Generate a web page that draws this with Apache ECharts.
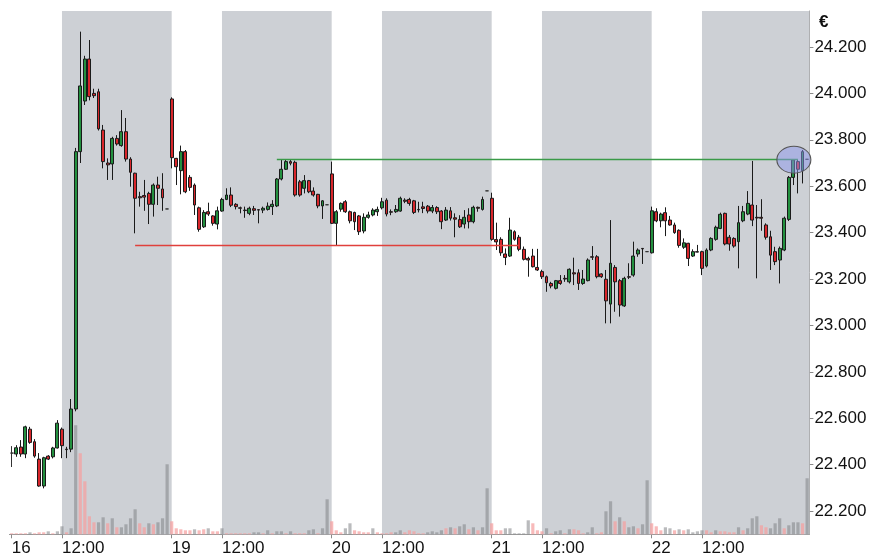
<!DOCTYPE html>
<html>
<head>
<meta charset="utf-8">
<script src="https://cdn.jsdelivr.net/npm/echarts@6/dist/echarts.min.js"></script>
<style>html,body{margin:0;padding:0;background:#fff}#chart{width:871px;height:558px}</style>
</head>
<body>
<div id="chart"></div>
<script>
// ---- DATA ----
const sessionDays = ['16', '19', '20', '21', '22'];
const barsPerDay = 35;
const noonSlot = 11;
const tickLabels = ['16', '12:00', '19', '12:00', '20', '12:00', '21', '12:00', '22', '12:00'];
const tickIndex = [0, 11, 35, 46, 70, 81, 105, 116, 140, 151];
const priceTicks = [22.2, 22.4, 22.6, 22.8, 23.0, 23.2, 23.4, 23.6, 23.8, 24.0, 24.2];

const opens = [
  22.45,22.446,22.476,22.446,22.553,22.499,22.424,22.308,22.437,22.434,22.472,22.553,22.467,22.467,22.64,23.749,23.967,24.148,24.0,24.007,23.842,23.70,23.696,23.806,23.775,23.835,23.717,23.656,23.555,23.56,23.569,23.522,23.605,23.588,23.502,
  23.976,23.72,23.667,23.749,23.638,23.605,23.507,23.425,23.49,23.472,23.437,23.493,23.543,23.562,23.522,23.507,23.497,23.483,23.503,23.499,23.497,23.50,23.512,23.515,23.631,23.673,23.706,23.703,23.619,23.591,23.624,23.579,23.565,23.515,23.52,
  23.653,23.44,23.501,23.533,23.49,23.487,23.472,23.407,23.466,23.476,23.49,23.507,23.54,23.49,23.49,23.493,23.54,23.543,23.537,23.50,23.511,23.514,23.493,23.508,23.493,23.454,23.494,23.464,23.456,23.437,23.476,23.447,23.509,23.50,23.58,
  23.548,23.37,23.371,23.308,23.299,23.404,23.38,23.328,23.289,23.299,23.25,23.232,23.21,23.181,23.16,23.193,23.203,23.188,23.227,23.227,23.181,23.193,23.296,23.296,23.222,23.199,23.092,23.25,23.193,23.084,23.21,23.217,23.308,23.332,23.318,
  23.313,23.49,23.451,23.486,23.454,23.433,23.41,23.337,23.354,23.299,23.318,23.318,23.256,23.325,23.371,23.418,23.483,23.38,23.375,23.361,23.451,23.48,23.519,23.466,23.466,23.433,23.382,23.318,23.282,23.325,23.457,23.638,23.706,23.667,23.716
];
const highs = [
  22.48,22.484,22.506,22.568,22.563,22.51,22.45,22.434,22.441,22.477,22.592,22.56,22.477,22.683,23.765,24.266,24.162,24.23,24.02,24.02,23.864,23.72,23.813,23.82,23.928,23.894,23.725,23.658,23.576,23.627,23.576,23.612,23.641,23.656,23.502,
  23.983,23.722,23.775,23.756,23.648,23.612,23.512,23.497,23.529,23.475,23.512,23.55,23.591,23.595,23.527,23.512,23.512,23.512,23.515,23.50,23.512,23.53,23.54,23.635,23.713,23.715,23.715,23.71,23.627,23.648,23.627,23.595,23.567,23.54,23.52,
  23.706,23.497,23.53,23.54,23.495,23.49,23.476,23.483,23.49,23.505,23.512,23.55,23.548,23.50,23.519,23.555,23.548,23.55,23.541,23.533,23.533,23.519,23.519,23.514,23.497,23.51,23.51,23.483,23.475,23.497,23.505,23.516,23.512,23.555,23.58,
  23.572,23.443,23.38,23.332,23.464,23.41,23.39,23.34,23.296,23.33,23.33,23.24,23.215,23.188,23.196,23.217,23.217,23.246,23.292,23.242,23.239,23.289,23.342,23.303,23.225,23.239,23.454,23.26,23.20,23.21,23.268,23.361,23.332,23.333,23.318,
  23.512,23.505,23.486,23.509,23.472,23.443,23.414,23.375,23.356,23.328,23.347,23.322,23.332,23.38,23.43,23.486,23.486,23.39,23.38,23.515,23.515,23.579,23.709,23.519,23.544,23.44,23.408,23.339,23.34,23.469,23.644,23.716,23.713,23.756,23.716
];
const lows = [
  22.39,22.434,22.434,22.428,22.49,22.43,22.305,22.298,22.42,22.427,22.47,22.428,22.428,22.454,22.63,23.70,23.95,23.97,23.98,23.84,23.677,23.627,23.627,23.775,23.77,23.706,23.598,23.397,23.512,23.494,23.437,23.469,23.519,23.494,23.502,
  23.677,23.605,23.565,23.57,23.58,23.476,23.404,23.42,23.472,23.43,23.414,23.49,23.54,23.51,23.50,23.483,23.464,23.475,23.476,23.44,23.484,23.495,23.476,23.51,23.625,23.67,23.69,23.555,23.555,23.569,23.57,23.555,23.505,23.459,23.52,
  23.437,23.343,23.49,23.485,23.44,23.411,23.39,23.397,23.46,23.47,23.472,23.50,23.47,23.475,23.485,23.49,23.527,23.516,23.48,23.487,23.484,23.483,23.484,23.48,23.415,23.45,23.452,23.38,23.42,23.418,23.418,23.44,23.49,23.495,23.58,
  23.365,23.325,23.30,23.26,23.295,23.365,23.32,23.28,23.21,23.25,23.235,23.20,23.145,23.16,23.155,23.175,23.188,23.181,23.174,23.153,23.175,23.19,23.282,23.203,23.205,23.009,23.009,23.059,23.038,23.08,23.20,23.21,23.296,23.265,23.318,
  23.31,23.445,23.423,23.385,23.43,23.395,23.335,23.33,23.256,23.295,23.315,23.217,23.25,23.32,23.365,23.415,23.345,23.322,23.335,23.246,23.445,23.475,23.428,23.203,23.408,23.37,23.239,23.26,23.181,23.32,23.45,23.605,23.569,23.612,23.716
];
const closes = [
  22.45,22.473,22.446,22.563,22.496,22.437,22.308,22.43,22.424,22.472,22.579,22.482,22.465,22.64,23.749,24.032,24.148,23.986,23.99,23.847,23.706,23.692,23.806,23.782,23.835,23.717,23.66,23.548,23.55,23.553,23.522,23.605,23.591,23.55,23.502,
  23.723,23.684,23.749,23.576,23.595,23.519,23.414,23.487,23.48,23.44,23.494,23.543,23.562,23.518,23.512,23.505,23.495,23.505,23.496,23.497,23.505,23.514,23.522,23.631,23.673,23.706,23.699,23.562,23.562,23.624,23.576,23.562,23.515,23.537,23.52,
  23.44,23.49,23.526,23.49,23.451,23.447,23.404,23.466,23.476,23.497,23.50,23.533,23.48,23.488,23.50,23.548,23.535,23.526,23.487,23.498,23.504,23.493,23.508,23.49,23.447,23.497,23.462,23.458,23.425,23.466,23.447,23.509,23.505,23.543,23.58,
  23.371,23.36,23.313,23.293,23.411,23.371,23.328,23.285,23.282,23.253,23.239,23.21,23.184,23.17,23.193,23.181,23.20,23.242,23.222,23.181,23.20,23.282,23.294,23.21,23.21,23.106,23.268,23.188,23.088,23.203,23.208,23.299,23.325,23.33,23.318,
  23.494,23.451,23.48,23.451,23.433,23.40,23.345,23.356,23.289,23.318,23.316,23.246,23.325,23.375,23.423,23.479,23.351,23.351,23.342,23.443,23.49,23.526,23.454,23.463,23.462,23.38,23.303,23.275,23.332,23.462,23.638,23.713,23.673,23.749,23.716
];
// volume (relative units): buy-side (grey) and sell-side (pink)
const upVolume = [
  0,0,0,0,2,0,0,0,3,0,3, 8,0,6,109,0,0,0,0,12,17,0,16,0,7,10,16,25,0,0,11,0,12,16,70,
  0,0,0,0,0,5,0,0,6,0,0, 6,0,0,0,0,0,0,2,2,0,4,0,3,3,0,3,0,0,0,4,5,0,6,35,
  0,0,0,6,11,0,0,0,0,6,0, 0,0,0,2,4,0,0,0,0,0,2,3,2,4,0,7,0,8,10,0,7,0,7,46,
  0,0,0,6,6,1,1,1,14,0,0, 0,6,0,3,4,0,5,0,0,0,2,7,0,0,23,33,0,17,0,7,8,0,10,54,
  0,0,0,7,6,0,5,0,5,2,3, 4,0,0,4,0,0,0,0,7,0,6,16,18,0,0,6,11,16,0,9,12,12,0,56
];
const downVolume = [
  1,1,1,1,0,1,2,2,0,1,0, 0,2,0,0,81,53,18,12,0,0,11,0,7,0,0,0,0,11,7,0,10,0,0,0,
  13,6,5,4,4,0,4,5,0,3,3, 0,1,1,1,1,1,1,0,0,1,0,1,0,0,1,0,1,1,1,0,0,1,0,0,
  13,4,2,0,0,4,3,2,2,0,2, 1,1,2,0,0,2,4,3,1,1,0,0,0,0,6,0,6,0,0,5,0,4,0,0,
  11,4,4,0,0,0,0,0,0,11,4, 3,0,1,0,0,1,0,5,4,1,0,0,1,2,0,0,13,0,13,0,0,6,0,0,
  11,8,4,0,0,4,0,4,0,0,0, 0,4,2,0,3,3,2,2,0,4,0,0,0,9,7,0,0,0,6,0,0,0,11,0
];
const supportLine = { from: 27, to: 111, value: 23.344 };
const resistanceLine = { from: 58, to: 172, value: 23.715 };
const highlight = { x: 171.1, value: 23.714 };

// ---- BUILD ----
const totalBars = sessionDays.length * barsPerDay;
const categories = [];
sessionDays.forEach(d => { for (let k = 0; k < barsPerDay; k++) categories.push(d + '#' + k); });
const labelAt = {};
tickIndex.forEach((idx, j) => { labelAt[idx] = tickLabels[j]; });
const isTick = (idx) => Object.prototype.hasOwnProperty.call(labelAt, idx);

const ohlc = opens.map((o, i) => [o, closes[i], lows[i], highs[i]]);
const upV = upVolume.map(v => v > 0 ? v : '-');
const downV = downVolume.map(v => v > 0 ? v : '-');

const bands = sessionDays.map((d, j) => {
  const start = j * barsPerDay + noonSlot;
  const end = Math.min((j + 1) * barsPerDay, totalBars - 0.5);
  return [{ xAxis: start }, { xAxis: end }];
});

const font = 'Liberation Sans, Arial, sans-serif';
const hidden = { show: false, axisLine: { show: false, onZero: false }, axisTick: { show: false }, axisLabel: { show: false }, splitLine: { show: false } };
const chart = echarts.init(document.getElementById('chart'), null, { renderer: 'canvas' });
chart.setOption({
  animation: false,
  backgroundColor: '#ffffff',
  title: { text: '€', left: 814, top: 9, textStyle: { fontSize: 17, fontWeight: 'bold', color: '#111', fontFamily: font } },
  grid: { left: 9.4, right: 61.6, top: 11, bottom: 23.7 },
  xAxis: [
    {
      type: 'category', data: categories, boundaryGap: true,
      axisLine: { show: true, onZero: false, lineStyle: { color: '#9a9a9a', width: 1 } },
      axisTick: { show: true, alignWithLabel: true, length: 4, interval: (i) => isTick(i), lineStyle: { color: '#8a8a8a' } },
      axisLabel: { interval: (i) => isTick(i), formatter: (v, i) => labelAt[i] || '', align: 'left', margin: 6, fontSize: 17, color: '#111', fontFamily: font },
      splitLine: { show: false }
    },
    Object.assign({ type: 'value', min: -0.5, max: totalBars - 0.5 }, hidden)
  ],
  yAxis: [
    {
      type: 'value', position: 'right', min: 22.1, max: 24.355,
      axisLine: { show: true, onZero: false, lineStyle: { color: '#9a9a9a' } },
      axisTick: { show: true, length: 4, customValues: priceTicks, lineStyle: { color: '#8a8a8a' } },
      axisLabel: { customValues: priceTicks, formatter: (v) => v.toFixed(3), margin: 5, fontSize: 17, color: '#111', fontFamily: font },
      splitLine: { show: false }
    },
    Object.assign({ type: 'value', position: 'left', min: 0, max: 523 }, hidden)
  ],
  series: [
    {
      name: 'sessions', type: 'line', xAxisIndex: 1, yAxisIndex: 0, data: [], z: 1, silent: true,
      markArea: { silent: true, itemStyle: { color: '#cdd0d5' }, data: bands }
    },
    {
      name: 'volUp', type: 'bar', xAxisIndex: 0, yAxisIndex: 1, data: upV, barWidth: 3.2, barGap: '-100%', z: 2,
      itemStyle: { color: 'rgba(130,132,135,0.55)' }
    },
    {
      name: 'volDown', type: 'bar', xAxisIndex: 0, yAxisIndex: 1, data: downV, barWidth: 3.2, barGap: '-100%', z: 2,
      itemStyle: { color: 'rgba(245,160,160,0.72)' }
    },
    {
      name: 'highlight', type: 'line', xAxisIndex: 1, yAxisIndex: 0, data: [], z: 3, silent: true,
      markPoint: {
        silent: true, symbol: 'circle', symbolSize: [34, 27], label: { show: false },
        itemStyle: { color: 'rgba(140,150,235,0.5)', borderColor: '#555', borderWidth: 1 },
        data: [{ coord: [highlight.x, highlight.value] }]
      }
    },
    {
      name: 'price', type: 'candlestick', xAxisIndex: 0, yAxisIndex: 0, data: ohlc, barWidth: 3.4, z: 4,
      itemStyle: { color: '#23903f', color0: '#d8262b', borderColor: '#1a1a1a', borderColor0: '#1a1a1a', borderColorDoji: '#333', borderWidth: 1 }
    },
    {
      name: 'levels', type: 'line', xAxisIndex: 1, yAxisIndex: 0, data: [], z: 5, silent: true,
      markLine: {
        silent: true, symbol: ['none', 'none'], label: { show: false },
        data: [
          [{ coord: [supportLine.from, supportLine.value], lineStyle: { color: '#e0403c', width: 1.3, type: 'solid' } },
           { coord: [supportLine.to, supportLine.value] }],
          [{ coord: [resistanceLine.from, resistanceLine.value], lineStyle: { color: '#3a9a48', width: 1.3, type: 'solid' } },
           { coord: [resistanceLine.to, resistanceLine.value] }]
        ]
      }
    }
  ]
});
</script>
</body>
</html>
